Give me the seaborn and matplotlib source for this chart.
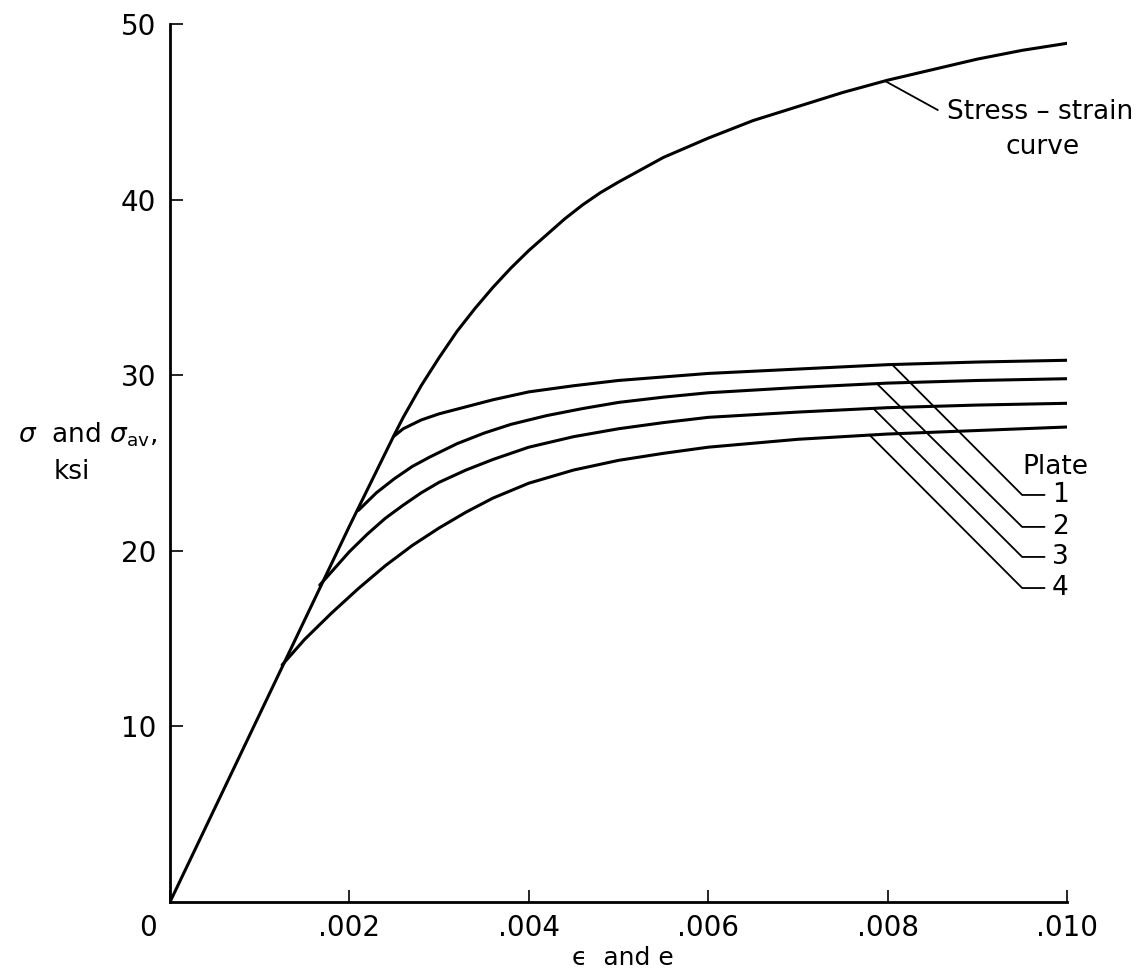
import numpy as np
import pandas as pd
import matplotlib
matplotlib.use("Agg")
import matplotlib.pyplot as plt
import matplotlib.transforms as mtransforms
import seaborn as sns

# ---- data ----
ss_strain = [0.0, 0.0010, 0.0020, 0.0025, 0.0026, 0.0027, 0.0028, 0.0029, 0.0030,
             0.0032, 0.0034, 0.0036, 0.0038, 0.0040, 0.0042, 0.0044, 0.0046,
             0.0048, 0.0050, 0.0055, 0.0060, 0.0065, 0.0070, 0.0075, 0.0080,
             0.0085, 0.0090, 0.0095, 0.0100]
ss_stress = [0.0, 10.7, 21.4, 26.6, 27.6, 28.5, 29.4, 30.2, 31.0,
             32.5, 33.8, 35.0, 36.1, 37.1, 38.0, 38.9, 39.7,
             40.4, 41.0, 42.4, 43.5, 44.5, 45.3, 46.1, 46.8,
             47.4, 48.0, 48.5, 48.9]

p1_strain = [0.00249, 0.0026, 0.0028, 0.0030, 0.0033, 0.0036, 0.0040, 0.0045,
             0.0050, 0.0055, 0.0060, 0.0070, 0.0080, 0.0090, 0.0100]
p1_stress = [26.5, 26.95, 27.45, 27.8, 28.2, 28.6, 29.05, 29.4,
             29.7, 29.9, 30.1, 30.35, 30.6, 30.75, 30.85]

p2_strain = [0.0021, 0.0023, 0.0025, 0.0027, 0.0029, 0.0032, 0.0035, 0.0038,
             0.0042, 0.0046, 0.0050, 0.0055, 0.0060, 0.0070, 0.0080, 0.0090, 0.0100]
p2_stress = [22.3, 23.3, 24.1, 24.8, 25.35, 26.1, 26.7, 27.2,
             27.7, 28.1, 28.45, 28.75, 29.0, 29.3, 29.55, 29.7, 29.8]

p3_strain = [0.00167, 0.0018, 0.0020, 0.0022, 0.0024, 0.0026, 0.0028, 0.0030,
             0.0033, 0.0036, 0.0040, 0.0045, 0.0050, 0.0055, 0.0060, 0.0070,
             0.0080, 0.0090, 0.0100]
p3_stress = [18.05, 18.8, 19.95, 20.95, 21.85, 22.6, 23.3, 23.9,
             24.6, 25.2, 25.9, 26.5, 26.95, 27.3, 27.6, 27.9,
             28.15, 28.3, 28.4]

p4_strain = [0.00125, 0.0015, 0.0018, 0.0021, 0.0024, 0.0027, 0.0030, 0.0033,
             0.0036, 0.0040, 0.0045, 0.0050, 0.0055, 0.0060, 0.0070, 0.0080,
             0.0090, 0.0100]
p4_stress = [13.5, 14.95, 16.45, 17.85, 19.15, 20.3, 21.3, 22.2,
             23.0, 23.85, 24.6, 25.15, 25.55, 25.9, 26.35, 26.65,
             26.85, 27.05]

plate_names = ["1", "2", "3", "4"]
leader_strain = [0.00805, 0.00788, 0.00784, 0.00780]
label_stress = [23.18, 21.36, 19.65, 17.88]

x_ticks = [0.0, 0.002, 0.004, 0.006, 0.008, 0.010]
x_ticklabels = ["0", ".002", ".004", ".006", ".008", ".010"]
y_ticks = [10, 20, 30, 40, 50]
y_ticklabels = ["10", "20", "30", "40", "50"]

# ---- build long table ----
frames = [pd.DataFrame({"strain": ss_strain, "stress": ss_stress, "curve": "ss"})]
plates = [(p1_strain, p1_stress), (p2_strain, p2_stress),
          (p3_strain, p3_stress), (p4_strain, p4_stress)]
for name, (xs, ys) in zip(plate_names, plates):
    frames.append(pd.DataFrame({"strain": xs, "stress": ys, "curve": "p" + name}))
df = pd.concat(frames, ignore_index=True)

# ---- style ----
sns.set_style("ticks")
plt.rcParams["font.family"] = ["DejaVu Sans"]
plt.rcParams["mathtext.fontset"] = "dejavusans"
plt.rcParams["text.color"] = "black"
plt.rcParams["axes.labelcolor"] = "black"
plt.rcParams["xtick.color"] = "black"
plt.rcParams["ytick.color"] = "black"

fig = plt.figure(figsize=(11.48, 9.73), dpi=100)
ax = fig.add_axes([170 / 1148, 1 - 902 / 973, (1067 - 170) / 1148, (902 - 24) / 973])

for c in df["curve"].unique():
    sub = df[df["curve"] == c]
    sns.lineplot(data=sub, x="strain", y="stress", ax=ax, color="black",
                 linewidth=2.2, sort=False, estimator=None, legend=False)
for line in ax.get_lines():
    line.set_solid_joinstyle("round")
    line.set_solid_capstyle("round")

ax.set_xlim(0, 0.010)
ax.set_ylim(0, 50)
sns.despine(ax=ax)
for s in ["left", "bottom"]:
    ax.spines[s].set_linewidth(2.0)
    ax.spines[s].set_color("black")

ax.set_xticks(x_ticks)
ax.set_xticklabels(x_ticklabels)
ax.set_yticks(y_ticks)
ax.set_yticklabels(y_ticklabels)
ax.tick_params(direction="in", length=9, width=1.2, color="black",
               labelsize=20, labelcolor="black")
ax.tick_params(axis="x", pad=9)
ax.tick_params(axis="y", pad=10)
ax.set_xlabel("")
ax.set_ylabel("")

# shift the origin "0" label to the left
lbl0 = ax.get_xticklabels()[0]
lbl0.set_transform(lbl0.get_transform() +
                   mtransforms.ScaledTranslation(-22 / 100, 0, fig.dpi_scale_trans))

# axis titles
fig.text(88 / 1148, 1 - 435 / 973, r"$\sigma$  and $\sigma_{\rm av}$,",
         ha="center", va="center", fontsize=19, color="black")
fig.text(72 / 1148, 1 - 472 / 973, "ksi", ha="center", va="center", fontsize=19,
         color="black")
fig.text(623 / 1148, 1 - 958 / 973, "\u03f5  and e", ha="center", va="center",
         fontsize=18, color="black")

# stress-strain annotation
ss_pt_x = 0.00797
ss_pt_y = float(np.interp(ss_pt_x, ss_strain, ss_stress))
ax.plot([ss_pt_x, 0.00856], [ss_pt_y, 45.1], color="black", lw=1.3, clip_on=False)
ax.text(0.00866, 45.0, "Stress – strain", ha="left", va="center", fontsize=19,
        color="black")
ax.text(0.00973, 43.0, "curve", ha="center", va="center", fontsize=19, color="black")

# plate labels with leaders
ax.text(0.00950, 24.77, "Plate", ha="left", va="center", fontsize=19, color="black")
for name, (xs, ys), lx, ly in zip(plate_names, plates, leader_strain, label_stress):
    y0 = float(np.interp(lx, xs, ys))
    ax.plot([lx, 0.00950, 0.00975], [y0, ly, ly], color="black", lw=1.3,
            clip_on=False)
    ax.text(0.00983, ly, name, ha="left", va="center", fontsize=19, color="black")

fig.savefig("out.png", dpi=100)
